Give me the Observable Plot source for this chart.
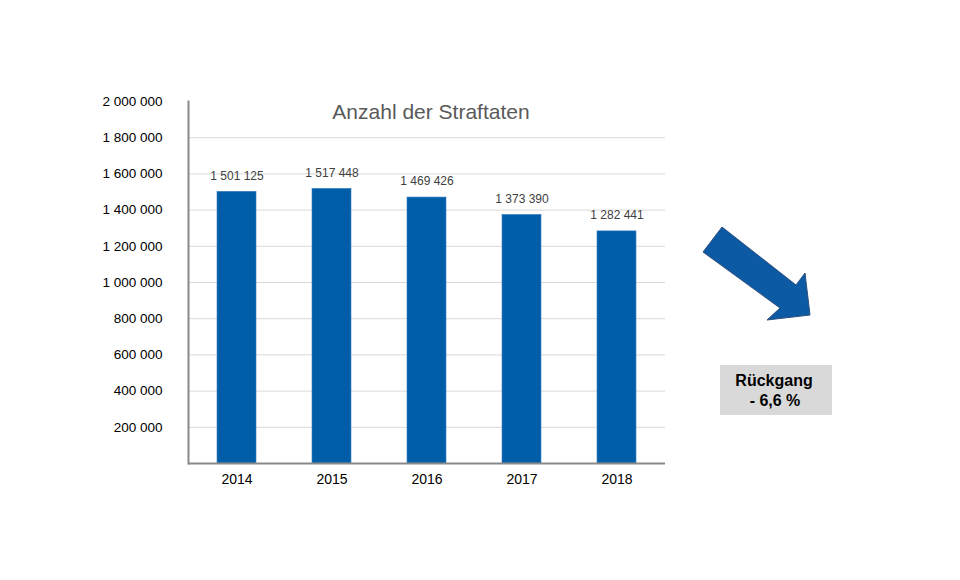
<!DOCTYPE html>
<html><head><meta charset="utf-8">
<script src="https://cdn.jsdelivr.net/npm/d3@7"></script>
<script src="https://cdn.jsdelivr.net/npm/@observablehq/plot@0.6"></script>
<style>
body{margin:0;background:#fff;}
#chart svg{font-family:"Liberation Sans",Arial,sans-serif;}
</style>
</head><body><div id="chart"></div>
<script>
const years = ["2014","2015","2016","2017","2018"];
const counts = [1501125,1517448,1469426,1373390,1282441];
const yTicks = [200000,400000,600000,800000,1000000,1200000,1400000,1600000,1800000,2000000];
const gridTicks = [200000,400000,600000,800000,1000000,1200000,1400000,1600000,1800000];
const title = "Anzahl der Straftaten";
const noteLines = ["Rückgang","- 6,6 %"];

const data = years.map((y,i)=>({year:y, count:counts[i]}));
const fmt = v => d3.format(",")(v).replace(/,/g," ");

const chart = Plot.plot({
  width: 960, height: 580,
  marginLeft: 188, marginRight: 295, marginTop: 101, marginBottom: 117,
  style: {fontFamily: "'Liberation Sans', Arial, sans-serif", color: "#000", background: "#fff"},
  x: {domain: years, paddingInner: 0.59, paddingOuter: 0.295, label: null},
  y: {domain: [0, 2000000], label: null},
  marks: [
    Plot.gridY(gridTicks, {stroke: "#d9d9d9", strokeOpacity: 1, strokeWidth: 1}),
    Plot.barY(data, {x: "year", y: "count", fill: "#005ea8", stroke: "#3d7fc0", strokeWidth: 0.6}),
    Plot.text(data, {x: "year", y: "count", text: d => fmt(d.count), dy: -16, fontSize: 12, fill: "#404040"}),
    Plot.axisY({ticks: yTicks, tickFormat: fmt, tickSize: 0, tickPadding: 26, fontSize: 13.5, label: null}),
    Plot.axisX({tickSize: 0, tickPadding: 11, fontSize: 14, label: null}),
    Plot.frame({anchor: "left", stroke: "#898989", strokeWidth: 2}),
    Plot.ruleY([0], {stroke: "#898989", strokeWidth: 2}),
    Plot.text([title], {frameAnchor: "top", dx: 4, dy: 3, fontSize: 21, fill: "#595959"})
  ]
});
document.getElementById("chart").appendChild(chart);

// Decorative annotation: arrow and note box
const svg = d3.select(chart);
const arrow = [[722,227],[796,285],[805,273],[810,315],[767,320],[780,308],[703,252]];
svg.append("polygon")
  .attr("points", arrow.map(p => p.join(",")).join(" "))
  .attr("fill", "#0b5aa3").attr("stroke", "#2f4f7f").attr("stroke-width", 1);
svg.append("rect").attr("x", 720).attr("y", 365).attr("width", 112).attr("height", 50).attr("fill", "#d9d9d9");
const note = svg.append("text").attr("text-anchor", "middle")
  .attr("font-family", "'Liberation Sans', Arial, sans-serif").attr("font-weight", "bold")
  .attr("font-size", 16).attr("fill", "#000");
note.append("tspan").attr("x", 774).attr("y", 386).text(noteLines[0]);
note.append("tspan").attr("x", 775).attr("y", 406).text(noteLines[1]);
</script>
</body></html>
